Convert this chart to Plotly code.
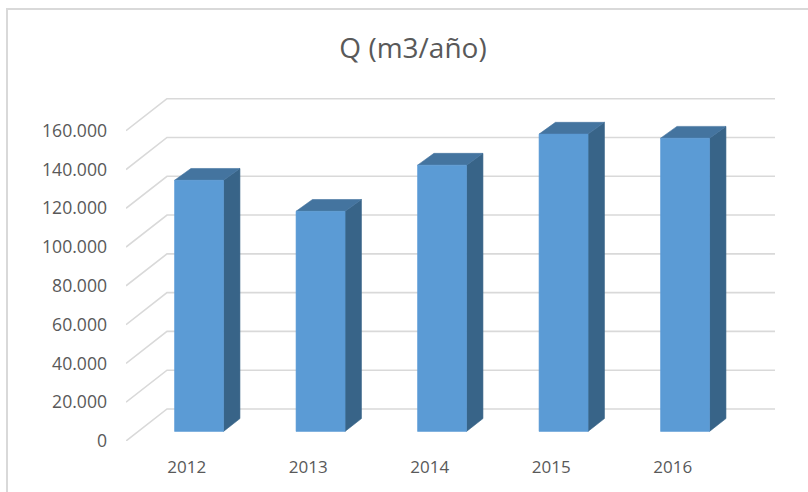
import plotly.graph_objects as go

years = ["2012", "2013", "2014", "2015", "2016"]
caudal = [129500, 113500, 137300, 153300, 151200]
tick_values = [0, 20000, 40000, 60000, 80000, 100000, 120000, 140000, 160000]
tick_labels = ["0", "20.000", "40.000", "60.000", "80.000", "100.000", "120.000", "140.000", "160.000"]

W, H = 808, 492
L, R, T, B = 126, 775, 98, 440.7
UNIT_X = 121.5
UNIT_Y = 310 / 160000
DX = 41 / UNIT_X
DY = 32 / UNIT_Y
BAR_W = 49 / UNIT_X
T0, T1 = 0.30, 0.70
TOP_DEPTH = 0.92
GRID = "#d9d9d9"
FRONT, TOP, SIDE = "#5b9bd5", "#44749f", "#386488"
FONT = "Open Sans"

fig = go.Figure()


def poly(xs, ys, color):
    fig.add_trace(go.Scatter(x=xs + xs[:1], y=ys + ys[:1], mode="lines", fill="toself", fillcolor=color,
                             line=dict(width=0.6, color=color), hoverinfo="skip", showlegend=False))


x_left = -0.5
x_right = x_left + (R - L) / UNIT_X
for v in tick_values:
    fig.add_trace(go.Scatter(x=[x_left, x_left + DX, x_right], y=[v, v + DY, v + DY], mode="lines",
                             line=dict(color=GRID, width=1.6), hoverinfo="skip", showlegend=False))

for k, v in enumerate(caudal):
    x0 = k + T0 * DX - BAR_W / 2
    x1 = x0 + BAR_W
    y0 = T0 * DY
    y1 = y0 + v
    sx = (T1 - T0) * DX
    sy = (T1 - T0) * DY
    st = sy * TOP_DEPTH
    poly([x1, x1 + sx, x1 + sx, x1], [y0, y0 + sy, y1 + st, y1], SIDE)
    poly([x0, x1, x1 + sx, x0 + sx], [y1, y1, y1 + st, y1 + st], TOP)
    poly([x0, x1, x1, x0], [y0, y0, y1, y1], FRONT)

frame_x = (7 - L) / (R - L)
frame_y = (B - 9) / (B - T)
fig.update_layout(
    width=W, height=H, autosize=False,
    margin=dict(l=L, r=W - R, t=T, b=H - B, pad=0),
    paper_bgcolor="white", plot_bgcolor="white",
    showlegend=False,
    font=dict(family=FONT, color="#595959"),
    title=dict(text="Q (m3/año)", x=413 / W, xanchor="center", y=1 - 48 / H, yanchor="middle",
               font=dict(family=FONT, size=28, color="#595959")),
    xaxis=dict(range=[x_left, x_right], tickvals=list(range(len(years))), ticktext=years,
               showgrid=False, zeroline=False, showline=False, ticks="", ticklabelstandoff=14,
               tickfont=dict(family=FONT, size=17, color="#595959")),
    yaxis=dict(range=[0, (B - T) / UNIT_Y], tickvals=tick_values, ticktext=tick_labels,
               showgrid=False, zeroline=False, showline=False, ticks="", ticklabelstandoff=18,
               tickfont=dict(family=FONT, size=17.6, color="#595959")),
    shapes=[dict(type="path", xref="paper", yref="paper",
                 path=f"M {frame_x} {(B - H) / (B - T)} L {frame_x} {frame_y} L {(W - L) / (R - L)} {frame_y}",
                 line=dict(color=GRID, width=2))],
)
fig.write_html("out.html", post_script="document.body.style.margin='0';", config={"displayModeBar": False})
